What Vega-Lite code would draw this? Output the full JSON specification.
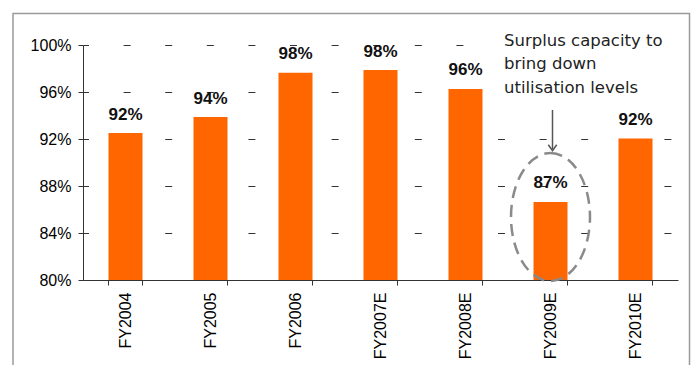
{
  "$schema": "https://vega.github.io/schema/vega-lite/v6.json",
  "width": 595,
  "height": 235,
  "autosize": {"type": "none"},
  "padding": {"left": 83, "top": 45, "right": 15, "bottom": 85},
  "background": "white",
  "config": {"view": {"stroke": null}, "font": "Liberation Sans"},
  "datasets": {
    "util": [
      {"year": "FY2004", "value": 0.9251, "label": "92%"},
      {"year": "FY2005", "value": 0.9387, "label": "94%"},
      {"year": "FY2006", "value": 0.9764, "label": "98%"},
      {"year": "FY2007E", "value": 0.9787, "label": "98%"},
      {"year": "FY2008E", "value": 0.9626, "label": "96%"},
      {"year": "FY2009E", "value": 0.8664, "label": "87%"},
      {"year": "FY2010E", "value": 0.9204, "label": "92%"}
    ],
    "note": [
      {"year": "FY2009E", "y": 0.9993, "text": "Surplus capacity to\nbring down\nutilisation levels"}
    ],
    "box": [
      {"left": "FY2009E", "right": "FY2010E", "y": 0.935, "y2": 1.01}
    ],
    "frame": [
      {"left": "FY2004", "right": "FY2010E", "y": 1.0268, "y2": 0.6}
    ],
    "arrow": [
      {"year": "FY2009E", "y": 0.9447, "y2": 0.9115, "head": 0.9126}
    ],
    "ring": [
      {"year": "FY2009E", "y": 0.8536}
    ]
  },
  "resolve": {"axis": {"x": "independent"}},
  "layer": [
    {
      "data": {"name": "util"},
      "mark": {"type": "bar", "color": "#FF6600", "clip": true},
      "encoding": {
        "x": {
          "field": "year", "type": "nominal", "sort": null,
          "scale": {"paddingInner": 0.6, "paddingOuter": 0.3},
          "axis": {"orient": "bottom", "title": null, "labelAngle": -90, "labelFontSize": 16, "labelColor": "#000", "labelPadding": 12, "ticks": false, "domain": false, "grid": false}
        },
        "y": {
          "field": "value", "type": "quantitative",
          "scale": {"domain": [0.8, 1.0], "nice": false, "zero": false},
          "axis": {"title": null, "values": [0.8, 0.84, 0.88, 0.92, 0.96, 1.0], "format": ".0%", "labelFontSize": 16, "labelColor": "#000", "labelPadding": 7, "tickSize": 5, "tickColor": "#333", "domainColor": "#333", "grid": true, "gridColor": "#333", "gridOpacity": 1, "gridDash": [7, 34.6], "gridDashOffset": 1.5}
        }
      }
    },
    {
      "data": {"name": "util"},
      "mark": {"type": "rule", "strokeOpacity": 0},
      "encoding": {
        "x": {
          "field": "year", "type": "nominal", "sort": null,
          "axis": {"orient": "bottom", "title": null, "labels": false, "ticks": true, "tickSize": 5, "tickColor": "#333", "bandPosition": 1, "tickExtra": true, "domain": true, "domainColor": "#333", "grid": false}
        }
      }
    },
    {
      "data": {"name": "box"},
      "mark": {"type": "rect", "fill": "white", "clip": false, "xOffset": -38.5, "x2Offset": 36},
      "encoding": {
        "x": {"field": "left", "type": "nominal", "bandPosition": 0, "axis": null},
        "x2": {"field": "right", "bandPosition": 1},
        "y": {"field": "y", "type": "quantitative"},
        "y2": {"field": "y2"}
      }
    },
    {
      "data": {"name": "frame"},
      "mark": {"type": "rect", "fill": null, "fillOpacity": 0, "stroke": "#9a9a9a", "strokeWidth": 1.5, "clip": false, "xOffset": -95.5, "x2Offset": 37},
      "encoding": {
        "x": {"field": "left", "type": "nominal", "bandPosition": 0, "axis": null},
        "x2": {"field": "right", "bandPosition": 1},
        "y": {"field": "y", "type": "quantitative"},
        "y2": {"field": "y2"}
      }
    },
    {
      "data": {"name": "util"},
      "mark": {"type": "text", "fontSize": 17, "fontWeight": "bold", "color": "#111", "baseline": "alphabetic", "dy": -13.5},
      "encoding": {
        "x": {"field": "year", "type": "nominal", "sort": null, "axis": null},
        "y": {"field": "value", "type": "quantitative"},
        "text": {"field": "label"}
      }
    },
    {
      "data": {"name": "note"},
      "mark": {"type": "text", "font": "DejaVu Sans", "fontSize": 16.5, "color": "#222", "align": "left", "baseline": "alphabetic", "dx": -46.5, "lineBreak": "\n", "lineHeight": 23.5},
      "encoding": {
        "x": {"field": "year", "type": "nominal", "sort": null, "axis": null},
        "y": {"field": "y", "type": "quantitative"},
        "text": {"field": "text"}
      }
    },
    {
      "data": {"name": "arrow"},
      "mark": {"type": "rule", "color": "#555", "strokeWidth": 1.5, "xOffset": 2},
      "encoding": {
        "x": {"field": "year", "type": "nominal", "sort": null, "axis": null},
        "y": {"field": "y", "type": "quantitative"},
        "y2": {"field": "y2"}
      }
    },
    {
      "data": {"name": "arrow"},
      "mark": {"type": "point", "shape": "M -1 -0.7 L 0 0.7 L 1 -0.7", "size": 70, "filled": false, "stroke": "#555", "strokeWidth": 1.5, "opacity": 1, "xOffset": 2},
      "encoding": {
        "x": {"field": "year", "type": "nominal", "sort": null, "axis": null},
        "y": {"field": "head", "type": "quantitative"}
      }
    },
    {
      "data": {"name": "ring"},
      "mark": {"type": "point", "shape": "M 0 -1 A 0.617 1 0 0 1 0 1 A 0.617 1 0 0 1 0 -1 Z", "size": 16384, "filled": false, "stroke": "#8a8a8a", "strokeWidth": 2.5, "strokeDash": [12, 7], "opacity": 1, "clip": false},
      "encoding": {
        "x": {"field": "year", "type": "nominal", "sort": null, "axis": null},
        "y": {"field": "y", "type": "quantitative"}
      }
    }
  ]
}
